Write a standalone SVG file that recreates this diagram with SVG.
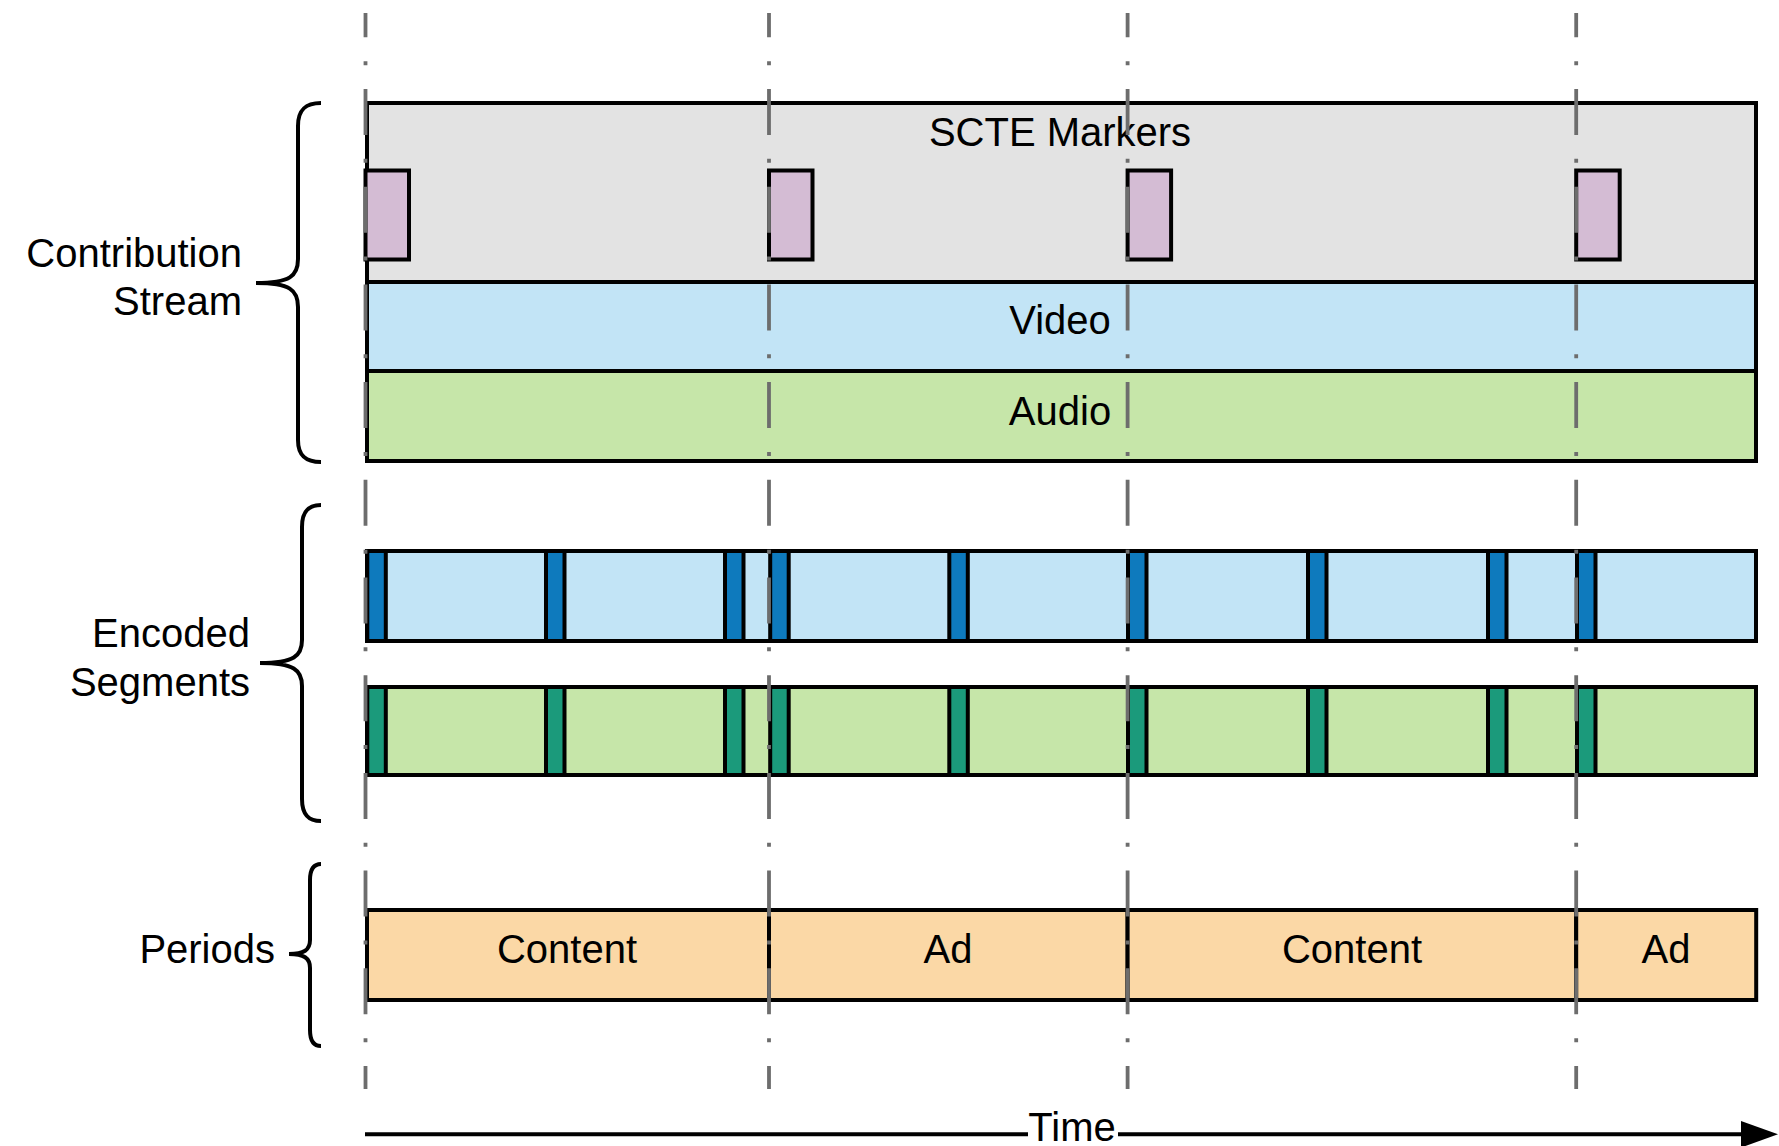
<svg xmlns="http://www.w3.org/2000/svg" width="1779" height="1146" viewBox="0 0 1779 1146">
<style>
text{font-family:"Liberation Sans",Arial,sans-serif;font-size:40px;fill:#000}
.c{text-anchor:middle}
.r{text-anchor:end}
.box{stroke:#000;stroke-width:4}
.gray{fill:#e3e3e3}
.mk{fill:#d4bcd4}
.lb{fill:#c2e4f6}
.lg{fill:#c6e6a9}
.db{fill:#0e7abd}
.dg{fill:#1b9a7b}
.or{fill:#fbd8a6}
.brace{fill:none;stroke:#000;stroke-width:4}
.tl{stroke:#6d6d6d;stroke-width:3.8;stroke-dasharray:46 23.85 4 23.85;stroke-dashoffset:21.7;fill:none}
</style>
<rect width="1779" height="1146" fill="#fff"/>

<g id="contribution-stream">
  <rect class="box gray" x="367" y="103" width="1389" height="179"/>
  <text class="c" x="1060" y="146">SCTE Markers</text>
  <rect class="box mk" x="365.5" y="170.5" width="43.5" height="89"/>
  <rect class="box mk" x="769" y="170.5" width="43.5" height="89"/>
  <rect class="box mk" x="1127.6" y="170.5" width="43.5" height="89"/>
  <rect class="box mk" x="1576.2" y="170.5" width="43.5" height="89"/>
  <rect class="box lb" x="367" y="282" width="1389" height="89"/>
  <text class="c" x="1060" y="334">Video</text>
  <rect class="box lg" x="367" y="371" width="1389" height="90"/>
  <text class="c" x="1060" y="425">Audio</text>
</g>

<g id="encoded-segments">
  <rect class="box lb" x="367" y="551" width="1389" height="90"/>
  <g class="box db">
    <rect x="367.3" y="551" width="18.5" height="90"/>
    <rect x="546" y="551" width="18.5" height="90"/>
    <rect x="725" y="551" width="18.5" height="90"/>
    <rect x="770.2" y="551" width="18.5" height="90"/>
    <rect x="949.3" y="551" width="18.5" height="90"/>
    <rect x="1128" y="551" width="18.5" height="90"/>
    <rect x="1308" y="551" width="18.5" height="90"/>
    <rect x="1488" y="551" width="18.5" height="90"/>
    <rect x="1577" y="551" width="18.5" height="90"/>
  </g>
  <rect class="box lg" x="367" y="687" width="1389" height="88"/>
  <g class="box dg">
    <rect x="367.3" y="687" width="18.5" height="88"/>
    <rect x="546" y="687" width="18.5" height="88"/>
    <rect x="725" y="687" width="18.5" height="88"/>
    <rect x="770.2" y="687" width="18.5" height="88"/>
    <rect x="949.3" y="687" width="18.5" height="88"/>
    <rect x="1128" y="687" width="18.5" height="88"/>
    <rect x="1308" y="687" width="18.5" height="88"/>
    <rect x="1488" y="687" width="18.5" height="88"/>
    <rect x="1577" y="687" width="18.5" height="88"/>
  </g>
</g>

<g id="periods">
  <rect class="box or" x="367" y="910" width="402" height="90"/>
  <text class="c" x="567" y="963">Content</text>
  <rect class="box or" x="769" y="910" width="358.6" height="90"/>
  <text class="c" x="948" y="963">Ad</text>
  <rect class="box or" x="1127.6" y="910" width="448.6" height="90"/>
  <text class="c" x="1352" y="963">Content</text>
  <rect class="box or" x="1576.2" y="910" width="180" height="90"/>
  <text class="c" x="1666" y="963">Ad</text>
</g>

<g id="label-contribution">
  <path class="brace" d="M321,103 C306,103 298,109 298,126 L298,259 C298,276 290,283 256,283 C290,283 298,290 298,307 L298,440 C298,456 306,462 321,462"/>
  <text class="r" x="242" y="267">Contribution</text>
  <text class="r" x="242" y="315">Stream</text>
</g>

<g id="label-encoded">
  <path class="brace" d="M321,505 C309,505 302,511 302,527 L302,640 C302,656 294,663 260,663 C294,663 302,670 302,686 L302,799 C302,815 309,821 321,821"/>
  <text class="r" x="250" y="647">Encoded</text>
  <text class="r" x="250" y="696">Segments</text>
</g>

<g id="label-periods">
  <path class="brace" d="M321,864 C314,864 310,869 310,880 L310,940 C310,950 304,954 289,954 C304,954 310,958 310,968 L310,1030 C310,1041 314,1046 321,1046"/>
  <text class="r" x="275" y="963">Periods</text>
</g>

<g id="connectors">
  <line class="tl" x1="365.5" y1="13" x2="365.5" y2="1089"/>
  <line class="tl" x1="769" y1="13" x2="769" y2="1089"/>
  <line class="tl" x1="1127.6" y1="13" x2="1127.6" y2="1089"/>
  <line class="tl" x1="1576.2" y1="13" x2="1576.2" y2="1089"/>
  <g id="time-axis">
    <line x1="365" y1="1134.3" x2="1745" y2="1134.3" stroke="#000" stroke-width="4"/>
    <polygon points="1741,1121 1778,1134.3 1741,1147.6" fill="#000"/>
    <rect x="1028" y="1112" width="90" height="34" fill="#fff"/>
    <text class="c" x="1072" y="1141">Time</text>
  </g>
</g>
</svg>
